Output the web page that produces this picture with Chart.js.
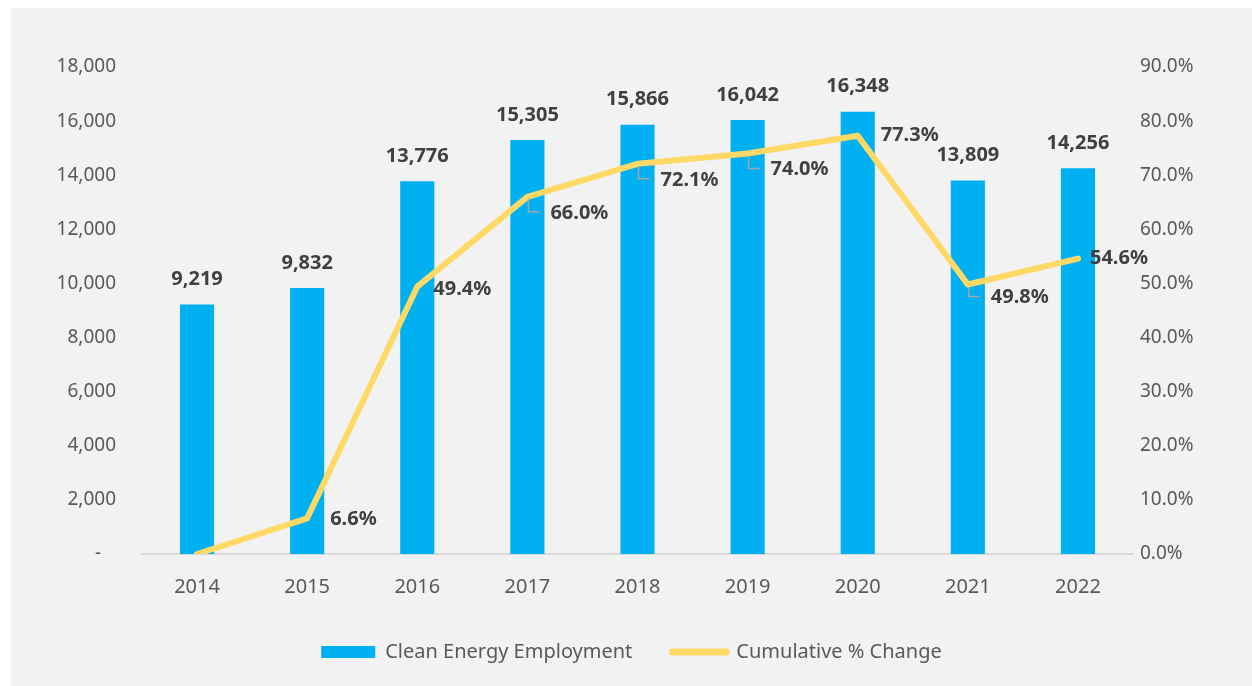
<!DOCTYPE html>
<html>
<head>
<meta charset="utf-8">
<script src="https://cdn.jsdelivr.net/npm/chart.js@4/dist/chart.umd.min.js"></script>
<style>
  html, body { margin: 0; padding: 0; background: #ffffff; }
  #wrap { position: absolute; left: 11px; top: 8px; width: 1241px; height: 678px; background: #f2f2f2; }
</style>
</head>
<body>
<div id="wrap"><canvas id="chart"></canvas></div>
<script>
const years = ['2014', '2015', '2016', '2017', '2018', '2019', '2020', '2021', '2022']
const employment = [9219, 9832, 13776, 15305, 15866, 16042, 16348, 13809, 14256]
const cumulativeChange = [0, 6.6, 49.4, 66.0, 72.1, 74.0, 77.3, 49.8, 54.6]

const FONT = '"Noto Sans", "Open Sans", sans-serif'

// label nudges for the line labels (excel moved a few of them and left leader lines)
const lineLabelDx = [0, 23, 16, 23, 23, 23, 23, 23, 12]
const lineLabelDy = [0, 1, 3, 16, 16, 16, 0, 13, 0]

// draws the value labels, there's no datalabels plugin offline
const valueLabels = {
  id: 'valueLabels',
  afterDatasetsDraw(chart) {
    const ctx = chart.ctx
    ctx.save()
    ctx.font = 'bold 20px ' + FONT
    ctx.fillStyle = '#404040'
    ctx.textBaseline = 'middle'

    const bars = chart.getDatasetMeta(0).data
    ctx.textAlign = 'center'
    bars.forEach((bar, i) => {
      ctx.fillText(employment[i].toLocaleString('en-US'), bar.x, bar.y - 25)
    })

    const points = chart.getDatasetMeta(1).data
    ctx.textAlign = 'left'
    points.forEach((pt, i) => {
      if (i === 0) return // 0.0% isn't labelled
      const lx = pt.x + lineLabelDx[i]
      const ly = pt.y + lineLabelDy[i]
      if (lineLabelDy[i] > 8) {
        ctx.strokeStyle = '#a6a6a6'
        ctx.lineWidth = 1.5
        ctx.beginPath()
        ctx.moveTo(pt.x + 1, pt.y + 3)
        ctx.lineTo(pt.x + 1, ly - 1)
        ctx.lineTo(lx - 11, ly - 1)
        ctx.stroke()
      }
      ctx.fillText(cumulativeChange[i].toFixed(1) + '%', lx, ly)
    })
    ctx.restore()
  }
}

new Chart(document.getElementById('chart'), {
  type: 'bar',
  data: {
    labels: years,
    datasets: [
      {
        label: 'Clean Energy Employment',
        data: employment,
        backgroundColor: '#00b0f0',
        yAxisID: 'y',
        barPercentage: 0.62,
        categoryPercentage: 0.5,
        order: 2
      },
      {
        type: 'line',
        label: 'Cumulative % Change',
        data: cumulativeChange,
        borderColor: '#ffd966',
        backgroundColor: '#ffd966',
        borderWidth: 6,
        borderCapStyle: 'round',
        borderJoinStyle: 'round',
        pointRadius: 0,
        tension: 0,
        yAxisID: 'y1',
        order: 1
      }
    ]
  },
  options: {
    responsive: true,
    maintainAspectRatio: false,
    animation: false,
    layout: { padding: { top: 59, left: 0, right: 0, bottom: 14 } },
    plugins: {
      tooltip: { enabled: false },
      legend: {
        position: 'bottom',
        labels: {
          font: { family: FONT, size: 20 },
          color: '#595959',
          usePointStyle: true,
          pointStyleWidth: 54,
          boxHeight: 12,
          padding: 40,
          sort: (a, b) => a.datasetIndex - b.datasetIndex,
          generateLabels(chart) {
            return chart.data.datasets.map((ds, i) => ({
              text: ds.label,
              datasetIndex: i,
              fillStyle: ds.backgroundColor,
              strokeStyle: ds.type === 'line' ? ds.borderColor : ds.backgroundColor,
              lineWidth: ds.type === 'line' ? 7 : 0,
              lineCap: 'round',
              pointStyle: ds.type === 'line' ? 'line' : 'rect',
              fontColor: '#595959',
              hidden: false
            }))
          }
        }
      }
    },
    scales: {
      x: {
        grid: { display: false, drawTicks: false },
        border: { display: true, color: '#d9d9d9', width: 2 },
        ticks: { font: { family: FONT, size: 20 }, color: '#595959', padding: 21 },
        afterFit(scale) { scale.height = 48 }
      },
      y: {
        position: 'left',
        min: 0,
        max: 18000,
        grid: { display: false, drawTicks: false },
        border: { display: false },
        ticks: {
          stepSize: 2000,
          font: { family: FONT, size: 19 },
          color: '#595959',
          padding: 26,
          callback: v => v === 0 ? '-   ' : v.toLocaleString('en-US')
        },
        afterFit(scale) { scale.width = 131 }
      },
      y1: {
        position: 'right',
        min: 0,
        max: 90,
        grid: { display: false, drawTicks: false },
        border: { display: false },
        ticks: {
          stepSize: 10,
          font: { family: FONT, size: 19 },
          color: '#595959',
          padding: 7,
          callback: v => v.toFixed(1) + '%'
        },
        afterFit(scale) { scale.width = 119 }
      }
    }
  },
  plugins: [valueLabels]
})
</script>
</body>
</html>
